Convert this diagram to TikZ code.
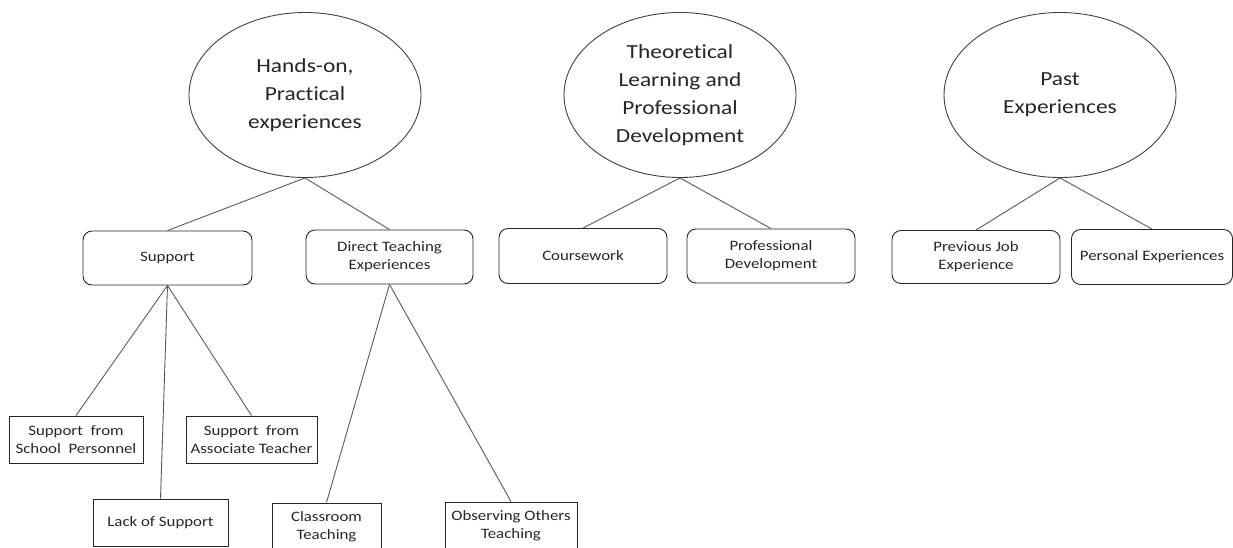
\documentclass[tikz,border=0pt]{standalone}
\usepackage{fontspec}
\setmainfont{Carlito}[FakeStretch=1.17, Ligatures=NoCommon]
\usetikzlibrary{shapes.geometric}

\begin{document}
\begin{tikzpicture}[
            x=1pt, y=-1pt,
            theme/.style={
                ellipse,
                draw=black!75,
                line width=0.9pt,
                minimum width=232pt,
                minimum height=165pt,
                inner sep=0pt,
                align=center,
                text=black!85,
                font=\fontsize{20}{28}\selectfont
            },
            category/.style={
                rectangle,
                rounded corners=9pt,
                draw=black!85,
                line width=0.9pt,
                minimum width=168pt,
                minimum height=54pt,
                inner sep=0pt,
                align=center,
                text=black!85,
                font=\fontsize{14.4}{18}\selectfont
            },
            code/.style={
                rectangle,
                draw=black!85,
                line width=0.9pt,
                minimum height=47pt,
                inner sep=0pt,
                align=center,
                text=black!85,
                font=\fontsize{14.4}{18}\selectfont
            },
            link/.style={
                draw=black!65,
                line width=0.9pt
            }
        ]

        \useasboundingbox (0,0) rectangle (1233,547);
        \clip (0,0) rectangle (1233,547);

        % Themes
        \node[theme] (hands)  at (305,95)  {Hands-on,\\Practical\\experiences};
        \node[theme] (theory) at (680,95)  {Theoretical\\Learning and\\Professional\\Development};
        \node[theme] (past)   at (1060,95) {Past\\Experiences};

        % Categories
        \node[category, minimum width=169pt] (support)  at (167.5,258) {Support};
        \node[category, minimum width=167pt] (direct)   at (389.5,257) {Direct Teaching\\Experiences};
        \node[category, minimum height=55pt] (course)   at (583,256)   {Coursework};
        \node[category]                      (profdev)  at (771,256)   {Professional\\Development};
        \node[category, minimum height=53pt] (prevjob)  at (976,257)   {Previous Job\\Experience};
        \node[category, minimum width=161pt, minimum height=55pt]
                                             (personal) at (1152,257)  {Personal Experiences};

        % Codes
        \node[code, minimum width=134pt] (school)    at (76,439.5)    {Support\ \ from\\School\ \ Personnel};
        \node[code, minimum width=131pt] (assoc)     at (251.5,439.5) {Support\ \ from\\Associate Teacher};
        \node[code, minimum width=135pt] (lack)      at (160.5,522.5) {Lack of Support};
        \node[code, minimum width=109pt] (classroom) at (326.5,526.5) {Classroom\\Teaching};
        \node[code, minimum width=132pt] (observing) at (511,525.5)   {Observing Others\\Teaching};

        % Links
        \draw[link] (hands.south)  -- (support.north);
        \draw[link] (hands.south)  -- (direct.north);
        \draw[link] (theory.south) -- (course.north);
        \draw[link] (theory.south) -- (profdev.north);
        \draw[link] (past.south)   -- (prevjob.north);
        \draw[link] (past.south)   -- (personal.north);

        \draw[link] (support.south) -- (school.north);
        \draw[link] (support.south) -- (lack.north);
        \draw[link] (support.south) -- (assoc.north);
        \draw[link] (direct.south)  -- (classroom.north);
        \draw[link] (direct.south)  -- (observing.north);

        \end{tikzpicture}
\end{document}
